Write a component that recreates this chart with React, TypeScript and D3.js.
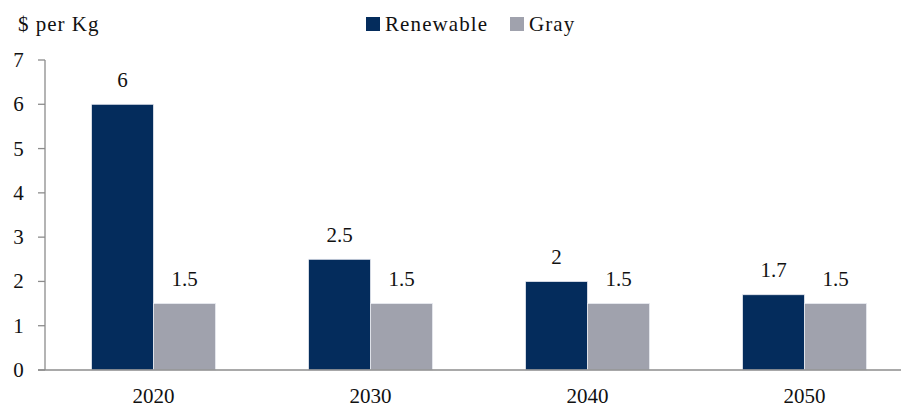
import React from "react";
import * as d3 from "d3";

const years = ["2020", "2030", "2040", "2050"];
const seriesNames = ["Renewable", "Gray"];
const renewable = [6, 2.5, 2, 1.7];
const gray = [1.5, 1.5, 1.5, 1.5];
const yTicks = [0, 1, 2, 3, 4, 5, 6, 7];
const colors = ["#042c5c", "#a0a2ad"];

const W = 901;
const H = 409;
const FONT = "'Liberation Serif', 'DejaVu Serif', serif";
const FS = 21;

export default function App() {
  const values = [renewable, gray];
  const y = d3.scaleLinear().domain([0, 7]).range([370, 60]);
  const x0 = d3.scaleBand<string>().domain(years).range([45, 913]).padding(0);
  const bw = x0.bandwidth();
  const barW = 62;
  const x1 = d3
    .scaleBand<string>()
    .domain(seriesNames)
    .range([bw / 2 - barW, bw / 2 + barW])
    .padding(0);

  return (
    <svg
      width={W}
      height={H}
      style={{ position: "absolute", left: 0, top: 0, background: "#fff" }}
      fontFamily={FONT}
    >
      {/* unit label */}
      <text x={18} y={31} fontSize={FS} letterSpacing={1} fill="#111">
        $ per Kg
      </text>

      {/* legend */}
      {seriesNames.map((s, i) => {
        const lx = [366, 510][i];
        return (
          <g key={s}>
            <rect x={lx} y={17} width={14} height={14} fill={colors[i]} />
            <text x={lx + 19} y={30.5} fontSize={FS} letterSpacing={1.1} fill="#111">
              {s}
            </text>
          </g>
        );
      })}

      {/* bars */}
      {years.map((yr, ci) => (
        <g key={yr} transform={`translate(${x0(yr)},0)`}>
          {seriesNames.map((s, si) => {
            const v = values[si][ci];
            const bx = x1(s)!;
            return (
              <g key={s}>
                <rect
                  x={bx}
                  y={y(v)}
                  width={x1.bandwidth()}
                  height={y(0) - y(v)}
                  fill={colors[si]}
                  stroke="#e8eaf0"
                  strokeWidth={0.8}
                />
                <text
                  x={bx + x1.bandwidth() / 2}
                  y={y(v) - 17.5}
                  textAnchor="middle"
                  fontSize={FS}
                  fill="#111"
                >
                  {String(v)}
                </text>
              </g>
            );
          })}
          <text x={bw / 2} y={403} textAnchor="middle" fontSize={FS} fill="#111">
            {yr}
          </text>
        </g>
      ))}

      {/* y axis */}
      <line x1={45} x2={45} y1={y(7)} y2={y(0)} stroke="#8c8c8c" strokeWidth={1.3} />
      {yTicks.map((t) => (
        <g key={t}>
          <line x1={38} x2={45} y1={y(t)} y2={y(t)} stroke="#8c8c8c" strokeWidth={1.3} />
          <text x={18.5} y={y(t) + 7} textAnchor="middle" fontSize={FS} fill="#111">
            {t}
          </text>
        </g>
      ))}

      {/* x axis */}
      <line x1={38} x2={W} y1={y(0)} y2={y(0)} stroke="#8c8c8c" strokeWidth={1.3} />
    </svg>
  );
}
